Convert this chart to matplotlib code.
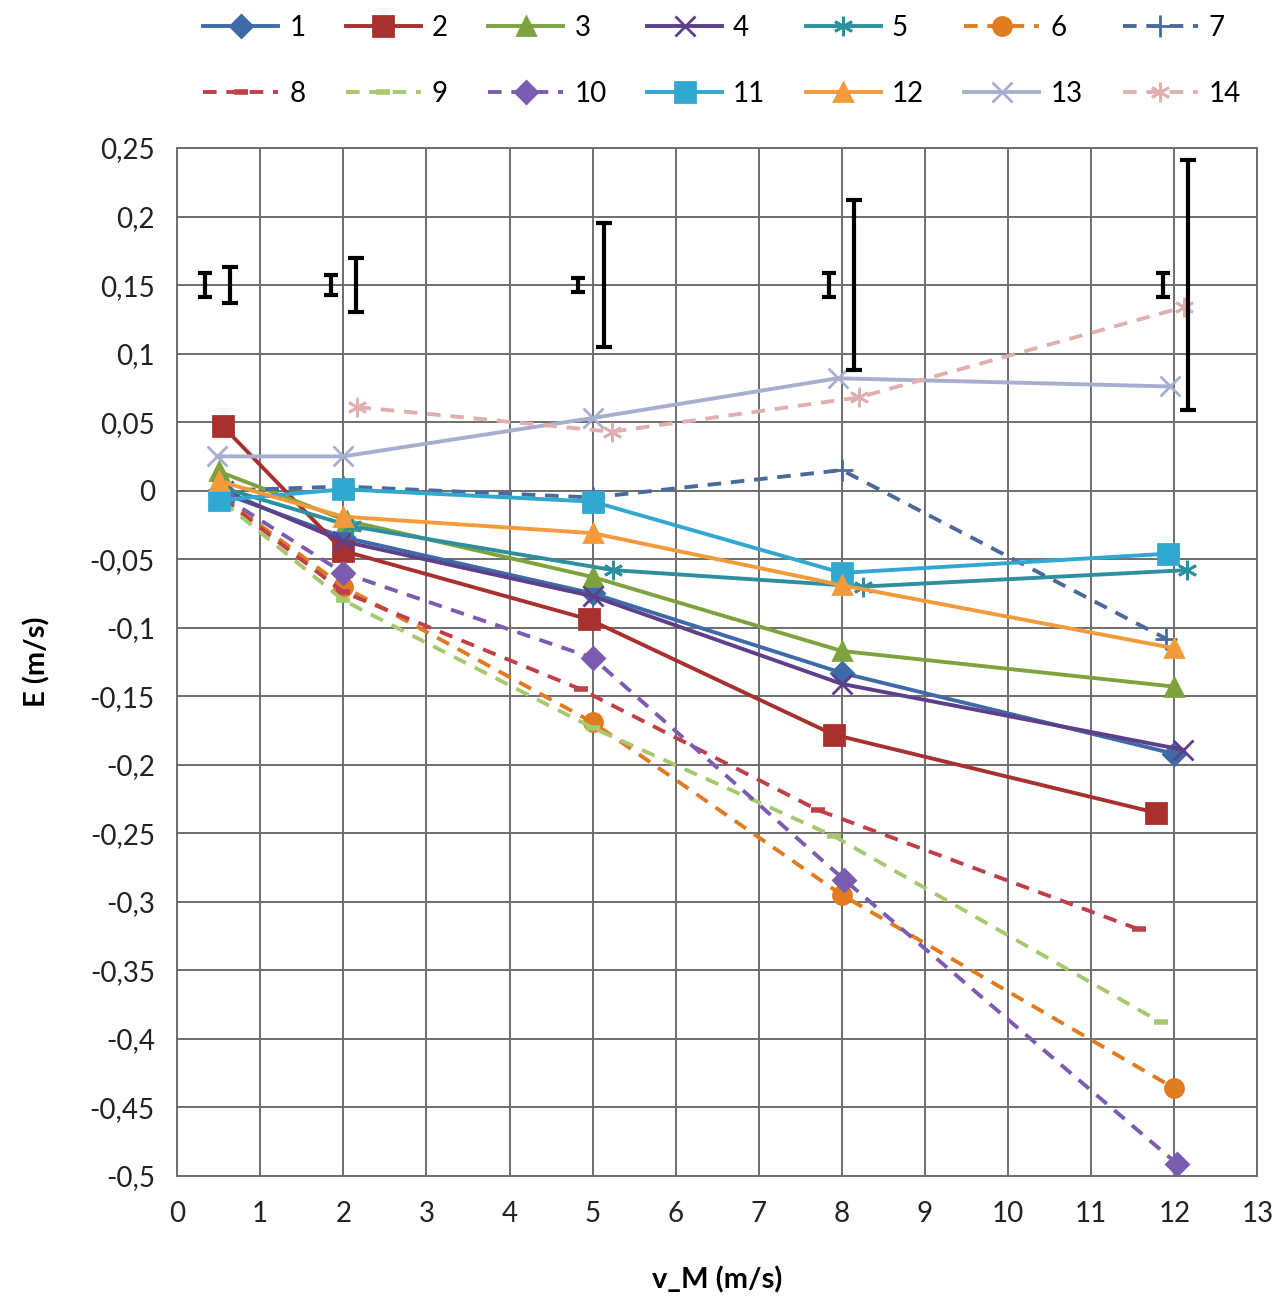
import matplotlib
matplotlib.use('Agg')
import matplotlib.pyplot as plt
from matplotlib.ticker import FuncFormatter, MultipleLocator

plt.rcParams['font.family'] = ['Lato', 'DejaVu Sans']

# measured error per velocity, 14 series
labels = ['1', '2', '3', '4', '5', '6', '7', '8', '9', '10', '11', '12', '13', '14']

x1 = [0.6, 2.0, 5.0, 8.0, 12.0]
y1 = [-0.003, -0.034, -0.075, -0.133, -0.192]
x2 = [0.55, 2.0, 4.96, 7.9, 11.78]
y2 = [0.047, -0.044, -0.094, -0.178, -0.235]
x3 = [0.5, 2.05, 5.0, 8.0, 12.0]
y3 = [0.014, -0.022, -0.063, -0.117, -0.143]
x4 = [0.55, 2.0, 5.0, 8.0, 12.1]
y4 = [0.0, -0.037, -0.077, -0.141, -0.189]
x5 = [0.55, 2.1, 5.25, 8.25, 12.15]
y5 = [0.002, -0.026, -0.058, -0.07, -0.058]
x6 = [0.55, 2.0, 5.0, 8.0, 12.0]
y6 = [-0.005, -0.07, -0.169, -0.295, -0.436]
x7 = [0.5, 2.0, 5.0, 8.0, 11.9]
y7 = [0.0, 0.003, -0.005, 0.015, -0.108]
x8 = [0.55, 2.0, 4.86, 7.71, 11.57]
y8 = [-0.006, -0.074, -0.145, -0.233, -0.32]
x9 = [0.55, 2.0, 5.0, 7.9, 11.84]
y9 = [-0.008, -0.08, -0.173, -0.252, -0.388]
x10 = [0.55, 2.0, 5.0, 8.03, 12.03]
y10 = [-0.004, -0.06, -0.122, -0.284, -0.491]
x11 = [0.5, 2.0, 5.0, 8.0, 11.92]
y11 = [-0.007, 0.001, -0.008, -0.06, -0.046]
x12 = [0.5, 2.0, 5.0, 8.0, 12.0]
y12 = [0.007, -0.019, -0.031, -0.069, -0.115]
x13 = [0.48, 2.0, 5.0, 7.95, 11.95]
y13 = [0.025, 0.025, 0.053, 0.082, 0.076]
x14 = [2.17, 5.23, 8.2, 12.12]
y14 = [0.061, 0.043, 0.068, 0.134]

# uncertainty bars drawn around 0,15
err_small_x = [0.34, 1.85, 4.82, 7.84, 11.86]
err_small = [0.009, 0.007, 0.005, 0.0085, 0.009]
err_large_x = [0.64, 2.15, 5.14, 8.14, 12.16]
err_large = [0.013, 0.020, 0.0455, 0.062, 0.091]
err_center = 0.15

xs = [x1, x2, x3, x4, x5, x6, x7, x8, x9, x10, x11, x12, x13, x14]
ys = [y1, y2, y3, y4, y5, y6, y7, y8, y9, y10, y11, y12, y13, y14]

colors = ['#3f6aa8', '#a8302f', '#7ea33e', '#5d3f8a', '#2e8f9e', '#e07b20', '#4a6a9c',
          '#c0404a', '#a8c870', '#7a5cb0', '#30a8d0', '#f39a3a', '#a8aed0', '#e0b0b0']
markers = ['D', 's', '^', 'x', (6, 2, 0), 'o', '+', '_', '_', 'D', 's', '^', 'x', (6, 2, 0)]
msizes = [11, 15, 13, 14, 14, 13, 16, 10, 10, 11, 15, 13, 14, 14]
dashed = [False, False, False, False, False, True, True, True, True, True, False, False, False, True]

fig = plt.figure(figsize=(12.74, 13.04), dpi=100)
ax = fig.add_axes([0.139, 0.0982, 0.848, 0.7883])

lines = []
for x, y, lab, c, m, ms, d in zip(xs, ys, labels, colors, markers, msizes, dashed):
    ls = (0, (3.5, 2.5)) if d else '-'
    mew = 4 if m == '_' else 2
    ln, = ax.plot(x, y, linestyle=ls, lw=2.8, color=c, marker=m, ms=ms,
                  mec=c, mfc=c, mew=mew, label=lab, zorder=3)
    lines.append(ln)

ax.errorbar(err_small_x, [err_center] * len(err_small_x), yerr=err_small, fmt='none',
            ecolor='black', elinewidth=3, capsize=5, capthick=3, zorder=4)
ax.errorbar(err_large_x, [err_center] * len(err_large_x), yerr=err_large, fmt='none',
            ecolor='black', elinewidth=3, capsize=6, capthick=3, zorder=4)

ax.set_xlim(0, 13)
ax.set_ylim(-0.5, 0.25)
ax.xaxis.set_major_locator(MultipleLocator(1))
ax.yaxis.set_major_locator(MultipleLocator(0.05))
ax.yaxis.set_major_formatter(FuncFormatter(lambda v, p: f'{round(v, 2):g}'.replace('.', ',')))
ax.grid(True, color='#6e6e6e', lw=1.4)
ax.set_axisbelow(True)
for s in ax.spines.values():
    s.set_color('#6e6e6e')
    s.set_linewidth(1.4)
ax.tick_params(length=0, labelsize=20, colors='#222222')
ax.tick_params(axis='y', pad=16)
ax.tick_params(axis='x', pad=18)

ax.set_xlabel('v_M (m/s)', fontsize=21, fontweight='bold', labelpad=28)
ax.set_ylabel('E (m/s)', fontsize=21, fontweight='bold', labelpad=28)

# legend fills by column, so interleave the two rows
order = [i for pair in zip(range(7), range(7, 14)) for i in pair]
fig.legend([lines[i] for i in order], [labels[i] for i in order],
           loc='upper left', bbox_to_anchor=(0.14, 1.008), ncol=7, frameon=False,
           fontsize=20, handlelength=2.7, handletextpad=0.4, columnspacing=1.45,
           labelspacing=1.45)

fig.savefig('out.png', dpi=100)
